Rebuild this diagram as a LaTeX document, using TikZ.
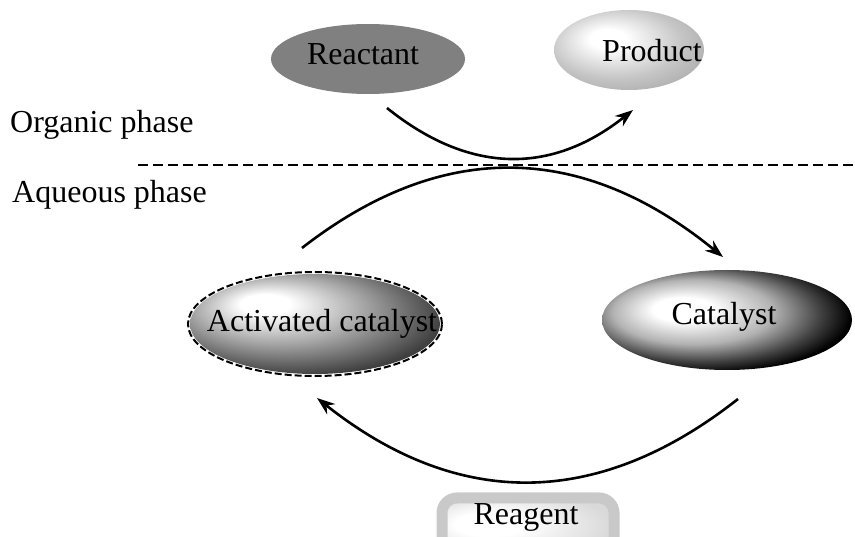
\documentclass[tikz,border=0pt]{standalone}
\usepackage{fontspec}
\setmainfont{Liberation Serif}
\usetikzlibrary{shapes.geometric,arrows.meta}

% radial shadings with an off-centre highlight (upper left)
\pgfdeclareradialshading{productshade}{\pgfpoint{-8bp}{8bp}}{%
  color(0bp)=(white); color(6bp)=(white); color(22bp)=(gray!45);
  color(32bp)=(gray!65); color(50bp)=(gray!65)}
\pgfdeclareradialshading{catalystshade}{\pgfpoint{-10bp}{6bp}}{%
  color(0bp)=(white); color(6bp)=(white); color(16bp)=(gray!60);
  color(24bp)=(black!75); color(29bp)=(black); color(50bp)=(black)}
\pgfdeclareradialshading{activeshade}{\pgfpoint{-11bp}{11bp}}{%
  color(0bp)=(white); color(5bp)=(white); color(17bp)=(gray!70);
  color(30bp)=(black!75); color(50bp)=(black!75)}
\pgfdeclareradialshading{reagentshade}{\pgfpoint{-14bp}{4bp}}{%
  color(0bp)=(white); color(10bp)=(white); color(30bp)=(gray!30);
  color(50bp)=(gray!30)}

\tikzset{
  lbl/.style={font=\fontsize{32pt}{37pt}\selectfont, anchor=base, inner sep=0pt},
  blob/.style={ellipse, inner sep=0pt},
  flow/.style={line width=2.6pt, -{Stealth[length=18pt,width=13pt]}},
}

\begin{document}
\begin{tikzpicture}[x=1pt,y=-1pt]
\useasboundingbox (0,0) rectangle (855,537);

% phase boundary
\coordinate (bl) at (138,165);
\coordinate (br) at (855,165);
\draw[line width=2.6pt, dash pattern=on 10pt off 5pt] (bl) -- (br);
\node[lbl, anchor=base west] (org) at (10,133) {Organic phase};
\node[lbl, anchor=base west] (aq) at (12,203) {Aqueous phase};

% organic side
\node[blob, fill=black!50, minimum width=194pt, minimum height=70pt] (reactant) at (368,59) {};
\node[lbl] (reactanttxt) at (363,65) {Reactant};
\node[blob, shading=productshade, minimum width=150pt, minimum height=80pt] (product) at (629,50) {};
\node[lbl] (producttxt) at (652,62) {Product};

% aqueous side
\node[blob, shading=activeshade, minimum width=250pt, minimum height=100pt] (active) at (315,324) {};
\node[blob, draw, line width=2pt, dash pattern=on 7pt off 3pt, minimum width=254pt, minimum height=104pt] (activeedge) at (315,324) {};
\node[lbl] (activetxt) at (322,332) {Activated catalyst};
\node[blob, shading=catalystshade, minimum width=250pt, minimum height=100pt] (catalyst) at (727,320) {};
\node[lbl] (catalysttxt) at (724,325) {Catalyst};

% reagent box
\node[draw=gray!42, line width=11pt, rounded corners=15pt, shading=reagentshade,
      minimum width=172pt, minimum height=60pt] (reagent) at (528,528) {};
\node[lbl] (reagenttxt) at (526,525) {Reagent};

% arcs
\coordinate (a1s) at (387,108);
\coordinate (a1e) at (633,110);
\draw[flow] (a1s) .. controls (469,174) and (551,175) .. (a1e);

\coordinate (a2s) at (302,248);
\coordinate (a2e) at (723,257);
\draw[flow] (a2s) .. controls (442,139) and (582,142) .. (a2e);

\coordinate (a3s) at (738,399);
\coordinate (a3e) at (317,398);
\draw[flow] (a3s) .. controls (597,510) and (457,509) .. (a3e);
\end{tikzpicture}
\end{document}
